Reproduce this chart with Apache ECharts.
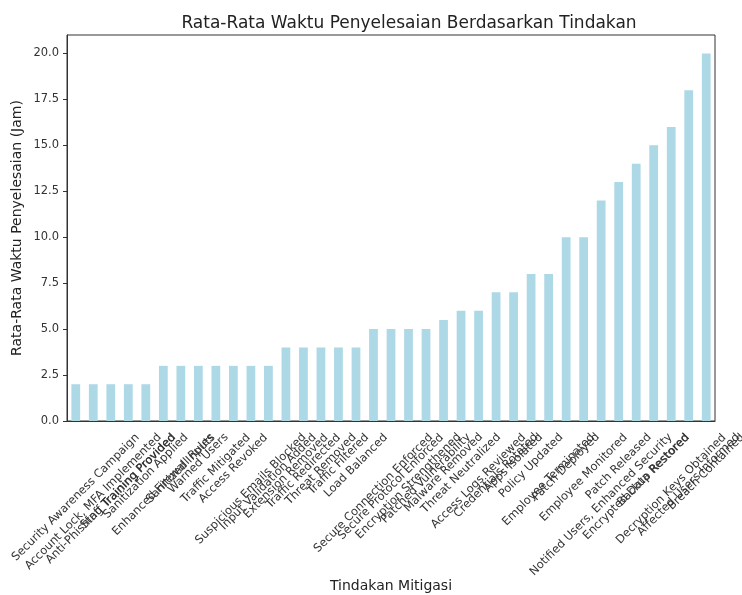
<!DOCTYPE html>
<html>
<head>
<meta charset="utf-8">
<script src="https://cdn.jsdelivr.net/npm/echarts@6/dist/echarts.min.js"></script>
<style>
  html, body { margin: 0; padding: 0; background: #fff; }
  #grafico { width: 742px; height: 595px; }
</style>
</head>
<body>
<div id="grafico"></div>
<script>
// Tindakan mitigasi, urut naik berdasarkan rata-rata waktu
const tindakan = [
    "Security Awareness Campaign",
    "Account Lock, MFA Implemented",
    "Anti-Phishing Training Provided",
    "Staff Training Provided",
    "Sanitization Applied",
    "Enhanced Firewall Rules",
    "Sanitized Inputs",
    "Warned Users",
    "Traffic Mitigated",
    "Access Revoked",
    "Suspicious Emails Blocked",
    "Input Validation Added",
    "Extension Removed",
    "Traffic Redirected",
    "Threat Removed",
    "Traffic Filtered",
    "Load Balanced",
    "Secure Connection Enforced",
    "Secure Protocol Enforced",
    "Encryption Strengthened",
    "Patched Vulnerability",
    "Malware Removed",
    "Threat Neutralized",
    "Access Logs Reviewed",
    "Credentials Rotated",
    "Apps Isolated",
    "Policy Updated",
    "Employee Terminated",
    "Patch Deployed",
    "Employee Monitored",
    "Notified Users, Enhanced Security",
    "Patch Released",
    "Encrypted Data Restored",
    "Backup Restored",
    "Decryption Keys Obtained",
    "Affected Users Informed",
    "Breach Contained"
];

const rataWaktu = [
    2, 2, 2, 2, 2,
    3, 3, 3, 3, 3, 3, 3,
    4, 4, 4, 4, 4,
    5, 5, 5, 5, 5.5,
    6, 6, 7, 7, 8, 8, 10, 10,
    12, 13, 14, 15, 16, 18, 20
];

const ticksY = [0, 2.5, 5, 7.5, 10, 12.5, 15, 17.5, 20];

const fuente = 'DejaVu Sans';
const tamLabel = 11.5;

// matplotlib centra las etiquetas rotadas bajo la marca: se imita con padding
let ctx = document.createElement('canvas').getContext('2d');
ctx.font = tamLabel + 'px "' + fuente + '"';
let rich = {};
tindakan.forEach((t, i) => {
    let p = Math.round((ctx.measureText(t).width + 13) / 2);
    rich['p' + i] = {
        padding: [p, p, 0, 0],
        fontSize: tamLabel,
        fontFamily: fuente,
        color: '#333'
    };
});

let grafico = echarts.init(document.getElementById('grafico'));

let option = {
    animation: false,
    title: {
        text: 'Rata-Rata Waktu Penyelesaian Berdasarkan Tindakan',
        left: 404,
        textAlign: 'center',
        top: 10,
        textStyle: {
            fontFamily: fuente,
            fontSize: 17,
            fontWeight: 'normal',
            color: '#222'
        }
    },
    grid: {
        left: 67,
        right: 27,
        top: 35,
        bottom: 174,
        show: true,
        borderColor: '#333',
        borderWidth: 1,
        outerBoundsMode: 'none'
    },
    xAxis: {
        type: 'category',
        data: tindakan,
        name: 'Tindakan Mitigasi',
        nameLocation: 'middle',
        nameGap: 158,
        nameMoveOverlap: false,
        nameTextStyle: { fontFamily: fuente, fontSize: 14, color: '#222' },
        axisLine: { lineStyle: { color: '#333' } },
        axisTick: { alignWithLabel: true, length: 4, lineStyle: { color: '#333' } },
        axisLabel: {
            interval: 0,
            rotate: 45,
            align: 'center',
            verticalAlign: 'middle',
            margin: 10,
            hideOverlap: false,
            fontFamily: fuente,
            fontSize: tamLabel,
            color: '#333',
            formatter: (v, i) => '{p' + i + '|' + v + '}',
            rich: rich
        }
    },
    yAxis: {
        type: 'value',
        min: 0,
        max: 21,
        interval: 2.5,
        name: 'Rata-Rata Waktu Penyelesaian (Jam)',
        nameLocation: 'middle',
        nameGap: 43,
        nameMoveOverlap: false,
        nameTextStyle: { fontFamily: fuente, fontSize: 14, color: '#222' },
        splitLine: { show: false },
        axisLine: { show: true, lineStyle: { color: '#333' } },
        axisTick: { show: true, length: 4, customValues: ticksY, lineStyle: { color: '#333' } },
        axisLabel: {
            customValues: ticksY,
            formatter: v => v.toFixed(1),
            margin: 8,
            fontFamily: fuente,
            fontSize: 11.5,
            color: '#333'
        }
    },
    series: [
        {
            name: 'Rata-Rata Waktu',
            type: 'bar',
            data: rataWaktu,
            barWidth: '50%',
            itemStyle: { color: '#ADD8E6' }
        }
    ]
};

grafico.setOption(option);
</script>
</body>
</html>
